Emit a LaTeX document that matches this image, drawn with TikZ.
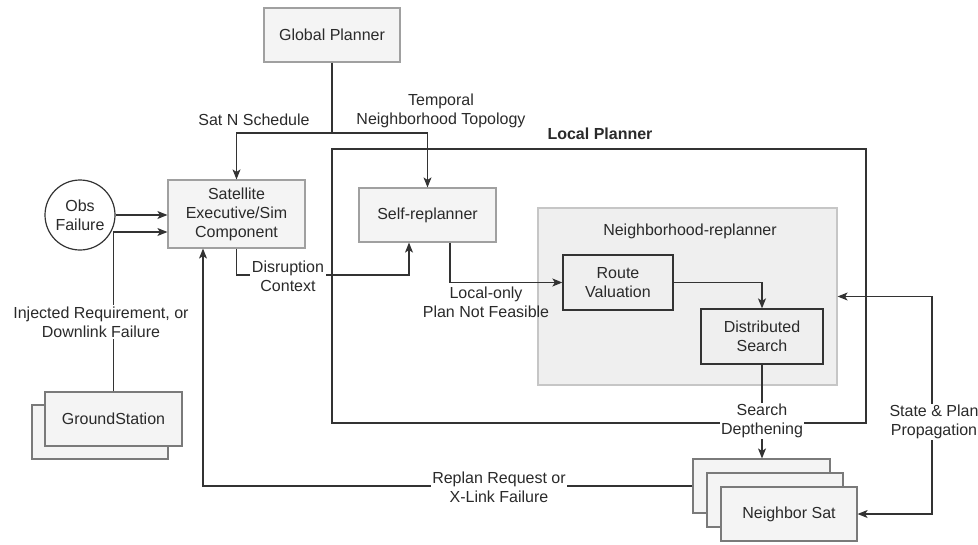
\documentclass[tikz,border=0pt]{standalone}
\usepackage{fontspec}
\setmainfont{Liberation Sans}
\usetikzlibrary{arrows.meta}
\definecolor{txt}{HTML}{2A2A2A}
\definecolor{lnc}{HTML}{333333}
\definecolor{boxfill}{HTML}{F4F4F4}
\definecolor{boxdraw}{HTML}{A0A0A0}
\definecolor{nrfill}{HTML}{EFEFEF}
\definecolor{nrdraw}{HTML}{C6C6C6}
\definecolor{stackdraw}{HTML}{7A7A7A}
\tikzset{
  every node/.style={text=txt, font=\fontsize{16}{19}\selectfont, align=center, inner sep=0pt},
  graybox/.style={draw=boxdraw, fill=boxfill, line width=1.2pt, rectangle},
  stackbox/.style={draw=stackdraw, fill=boxfill, line width=1.2pt, rectangle, minimum width=136pt, minimum height=54pt},
  darkbox/.style={draw=lnc, fill=nrfill, line width=1.3pt, rectangle},
  conn/.style={draw=lnc, line width=1.2pt},
  arr/.style={conn, -{Stealth[length=10pt,width=8pt,inset=2.5pt]}},
  arrboth/.style={conn, {Stealth[length=10pt,width=8pt,inset=2.5pt]}-{Stealth[length=10pt,width=8pt,inset=2.5pt]}},
  lbl/.style={fill=white, inner sep=1.5pt},
}
\begin{document}
\begin{tikzpicture}[x=1pt,y=-1pt]
\useasboundingbox (0,0) rectangle (978,544);

% Local planner frame and neighborhood
\node[draw=lnc, line width=1.6pt, minimum width=534pt, minimum height=274pt] (lp) at (599,286) {};
\node[font=\fontsize{16}{19}\selectfont\bfseries] (lpt) at (600,134) {Local Planner};
\node[draw=nrdraw, fill=nrfill, line width=1.2pt, minimum width=299pt, minimum height=177pt] (nr) at (687.5,296.5) {};
\node (nrt) at (690,231) {Neighborhood-replanner};

% boxes
\node[graybox, minimum width=136pt, minimum height=54pt] (gp) at (332,35) {Global Planner};
\node[graybox, minimum width=137pt, minimum height=68pt] (sat) at (236.5,214) {Satellite\\Executive/Sim\\Component};
\node[draw=lnc, fill=white, line width=1.2pt, circle, minimum size=70pt] (obs) at (80,215) {Obs\\Failure};
\node[stackbox] (gsb) at (100,432) {};
\node[stackbox, minimum width=137pt] (gsf) at (113.5,419) {GroundStation};
\node[graybox, minimum width=137pt, minimum height=54pt] (self) at (427.5,215) {Self-replanner};
\node[darkbox, minimum width=110pt, minimum height=55pt] (rv) at (618,282.5) {Route\\Valuation};
\node[darkbox, minimum width=122pt, minimum height=55pt] (ds) at (762,336.5) {Distributed\\Search};
\node[stackbox, minimum width=137pt] (nsb) at (761.5,486) {};
\node[stackbox] (nsm) at (775,500) {};
\node[stackbox] (nsf) at (789,514) {Neighbor Sat};

% connectors
\coordinate (j) at (332,133);
\draw[conn] (gp.south) -- (j);
\draw[arr] (j) -| (sat.north);
\draw[arr] (j) -| (self.north);
\draw[arr] (obs.east) -- (obs.east -| sat.west);
\draw[arr] (gsf.north) |- ([yshift=-18pt]sat.west);
\coordinate (dc) at (409,275);
\draw[arr] (sat.south) |- (dc) -- ([xshift=-18.5pt]self.south);
\draw[arr] ([xshift=22.5pt]self.south) |- (rv.west);
\draw[arr] (rv.east) -| (ds.north);
\draw[arr] (ds.south) -- (ds.south |- nsb.north);
\coordinate (sp) at (932,296);
\draw[arrboth] (nr.east) -- (nr.east -| sp) -- (sp |- nsf.east) -- (nsf.east);
\draw[arr] (nsb.west) -| ([xshift=-33.5pt]sat.south);

% labels
\node (l1) at (254,120) {Sat N Schedule};
\node (l2) at (441,111) {Temporal\\Neighborhood Topology};
\node[lbl] (l3) at (288,276) {Disruption\\Context};
\node (l4) at (486,302) {Local-only\\Plan Not Feasible};
\node[lbl] (l5) at (101,322) {Injected Requirement, or\\Downlink Failure};
\node[lbl] (l6) at (762,421) {Search\\Depthening};
\node[lbl] (l7) at (934,422) {State \& Plan\\Propagation};
\node[lbl] (l8) at (499,487) {Replan Request or\\X-Link Failure};
\end{tikzpicture}
\end{document}
